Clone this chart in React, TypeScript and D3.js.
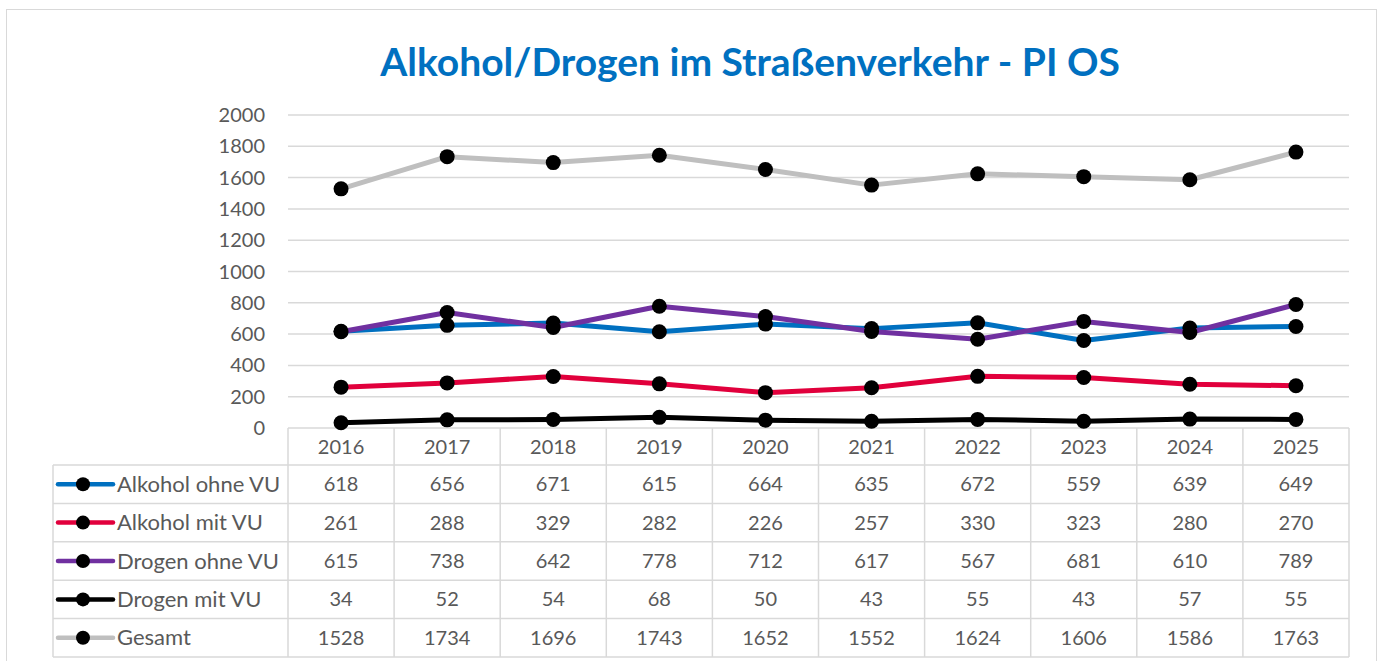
import React from "react";
import * as d3 from "d3";

const years = ["2016", "2017", "2018", "2019", "2020", "2021", "2022", "2023", "2024", "2025"];

const alkoholOhneVU = [618, 656, 671, 615, 664, 635, 672, 559, 639, 649];
const alkoholMitVU = [261, 288, 329, 282, 226, 257, 330, 323, 280, 270];
const drogenOhneVU = [615, 738, 642, 778, 712, 617, 567, 681, 610, 789];
const drogenMitVU = [34, 52, 54, 68, 50, 43, 55, 43, 57, 55];
const gesamt = [1528, 1734, 1696, 1743, 1652, 1552, 1624, 1606, 1586, 1763];

const yTicks = [0, 200, 400, 600, 800, 1000, 1200, 1400, 1600, 1800, 2000];

const series = [
  { name: "Alkohol ohne VU", values: alkoholOhneVU, color: "#0070C0" },
  { name: "Alkohol mit VU", values: alkoholMitVU, color: "#E1003C" },
  { name: "Drogen ohne VU", values: drogenOhneVU, color: "#7030A0" },
  { name: "Drogen mit VU", values: drogenMitVU, color: "#000000" },
  { name: "Gesamt", values: gesamt, color: "#BFBFBF" },
];

const font = "Lato, 'Open Sans', sans-serif";
const textColor = "#595959";
const gridColor = "#D9D9D9";

export default function App() {
  const left = 288;
  const right = 1349;
  const top = 115;
  const bottom = 428;
  const tableLeft = 53;
  const headerH = 37;
  const rowH = 38.4;

  const x = d3.scaleBand().domain(years).range([left, right]);
  const y = d3.scaleLinear().domain([0, 2000]).range([bottom, top]);

  const line = d3
    .line<number>()
    .x((_, i) => x(years[i])! + x.bandwidth() / 2)
    .y((d) => y(d));

  const rowTop = (i: number) => bottom + headerH + i * rowH;
  const tableBottom = rowTop(series.length);

  return (
    <svg width={1379} height={661} style={{ position: "absolute", left: 0, top: 0 }}>
      <rect x={0} y={0} width={1379} height={661} fill="#fff" />
      <rect x={6.5} y={9.5} width={1370} height={670} fill="#fff" stroke={gridColor} strokeWidth={1} />

      <text x={750} y={76} textAnchor="middle" fontFamily={font} fontWeight="bold" fontSize={39} fill="#0070C0">
        Alkohol/Drogen im Straßenverkehr - PI OS
      </text>

      {yTicks.map((t) => (
        <g key={t}>
          {t > 0 && <line x1={left} x2={right} y1={y(t)} y2={y(t)} stroke={gridColor} strokeWidth={1.5} />}
          <text x={265} y={y(t) + 7} textAnchor="end" fontFamily={font} fontSize={20} fill={textColor}>
            {t}
          </text>
        </g>
      ))}

      {/* data table grid */}
      <g stroke={gridColor} strokeWidth={1.5} fill="none">
        <line x1={left} x2={right} y1={bottom} y2={bottom} />
        <line x1={tableLeft} x2={right} y1={rowTop(0)} y2={rowTop(0)} />
        {series.map((s, i) => (
          <line key={s.name} x1={tableLeft} x2={right} y1={rowTop(i + 1)} y2={rowTop(i + 1)} />
        ))}
        <line x1={tableLeft} x2={tableLeft} y1={rowTop(0)} y2={tableBottom} />
        {years.map((yr) => (
          <line key={yr} x1={x(yr)!} x2={x(yr)!} y1={bottom} y2={tableBottom} />
        ))}
        <line x1={right} x2={right} y1={bottom} y2={tableBottom} />
      </g>

      {years.map((yr) => (
        <text
          key={yr}
          x={x(yr)! + x.bandwidth() / 2}
          y={bottom + headerH / 2 + 7}
          textAnchor="middle"
          fontFamily={font}
          fontSize={20}
          fill={textColor}
        >
          {yr}
        </text>
      ))}

      {series.map((s, i) => {
        const cy = rowTop(i) + rowH / 2;
        return (
          <g key={s.name}>
            <line x1={58} x2={113} y1={cy} y2={cy} stroke={s.color} strokeWidth={4.5} strokeLinecap="round" />
            <circle cx={83} cy={cy} r={7} fill="#000" />
            <text x={117} y={cy + 7.5} fontFamily={font} fontSize={22} fill={textColor}>
              {s.name}
            </text>
            {s.values.map((v, j) => (
              <text
                key={j}
                x={x(years[j])! + x.bandwidth() / 2}
                y={cy + 7}
                textAnchor="middle"
                fontFamily={font}
                fontSize={20}
                fill={textColor}
              >
                {v}
              </text>
            ))}
          </g>
        );
      })}

      {series.map((s) => (
        <g key={s.name}>
          <path d={line(s.values)!} fill="none" stroke={s.color} strokeWidth={5} strokeLinejoin="round" />
          {s.values.map((v, j) => (
            <circle key={j} cx={x(years[j])! + x.bandwidth() / 2} cy={y(v)} r={7.5} fill="#000" />
          ))}
        </g>
      ))}
    </svg>
  );
}
